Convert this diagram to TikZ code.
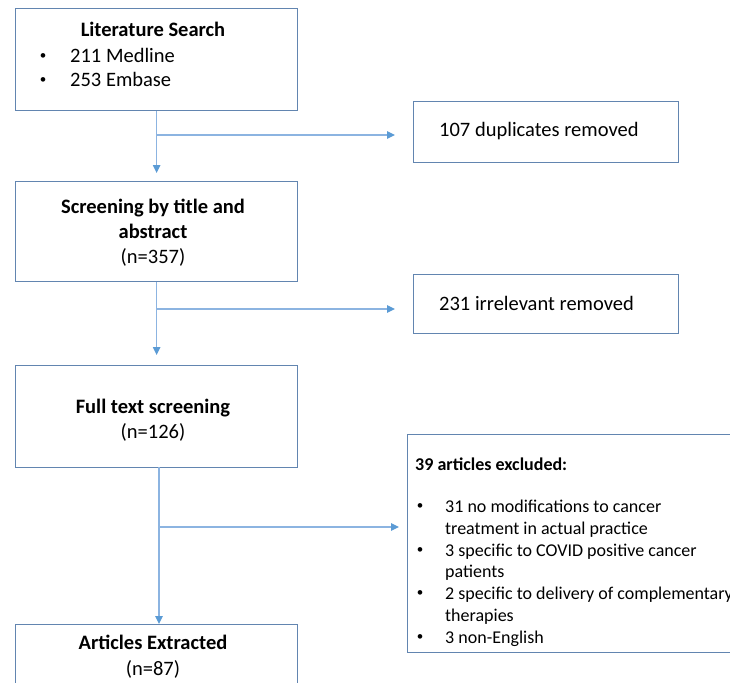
\documentclass[tikz,border=0pt]{standalone}
\usepackage{fontspec}
\setmainfont{Carlito}
\usetikzlibrary{arrows.meta}
\definecolor{boxc}{RGB}{98,133,176}
\definecolor{linec}{RGB}{140,180,225}
\definecolor{tipc}{RGB}{91,155,213}
\begin{document}
\begin{tikzpicture}[x=1pt,y=-1pt,
  box/.style={draw=boxc,line width=1.3pt,fill=white,inner sep=0pt,anchor=north west},
  big/.style={inner sep=0pt,font=\fontsize{20.5}{24}\selectfont},
  bigb/.style={inner sep=0pt,font=\fontsize{20.5}{24}\selectfont\bfseries},
  small/.style={inner sep=0pt,font=\fontsize{18}{21}\selectfont},
  smallb/.style={inner sep=0pt,font=\fontsize{18}{21}\selectfont\bfseries},
  bul/.style={inner sep=0pt,anchor=center,font=\fontsize{13}{15}\selectfont},
  ctr/.style={anchor=base},
  lft/.style={anchor=base west},
  arr/.style={draw=linec,line width=1.1pt,-{Triangle[length=8pt,width=7.5pt,fill=tipc,color=tipc]}}
]
\useasboundingbox (0,0) rectangle (730,682);
\clip (0,0) rectangle (730,682);

% boxes
\node[box,minimum width=282,minimum height=102] (lit) at (15,8) {};
\node[box,minimum width=265,minimum height=61] (dup) at (413,101) {};
\node[box,minimum width=282,minimum height=100] (scr) at (15,181) {};
\node[box,minimum width=265,minimum height=59] (irr) at (413,274) {};
\node[box,minimum width=282,minimum height=102] (full) at (15,365) {};
\node[box,minimum width=340,minimum height=218] (exc) at (407,434) {};
\node[box,minimum width=282,minimum height=80] (ext) at (15,624) {};

% texts
\node[bigb,ctr] (t1) at (153,37) {Literature Search};
\node[bul] (b1a) at (43,57) {•};
\node[big,lft] (t1a) at (70,63) {211 Medline};
\node[bul] (b1b) at (43,81) {•};
\node[big,lft] (t1b) at (70,87) {253 Embase};

\node[big,lft] (t2) at (439,136) {107 duplicates removed};

\node[bigb,ctr] (t3a) at (153,213) {Screening by title and};
\node[bigb,ctr] (t3b) at (153,238) {abstract};
\node[big,ctr] (t3c) at (153,263) {(n=357)};

\node[big,lft] (t4) at (439,310) {231 irrelevant removed};

\node[bigb,ctr] (t5a) at (153,413) {Full text screening};
\node[big,ctr] (t5b) at (153,438) {(n=126)};

\node[smallb,lft] (t6) at (415,470) {39 articles excluded:};
\node[bul] (b6a) at (420,507) {•};
\node[small,lft] (t6a) at (445,512) {31 no modifications to cancer};
\node[small,lft] (t6b) at (445,534) {treatment in actual practice};
\node[bul] (b6c) at (420,551) {•};
\node[small,lft] (t6c) at (445,556) {3 specific to COVID positive cancer};
\node[small,lft] (t6d) at (445,577) {patients};
\node[bul] (b6e) at (420,594) {•};
\node[small,lft] (t6e) at (445,599) {2 specific to delivery of complementary};
\node[small,lft] (t6f) at (445,621) {therapies};
\node[bul] (b6g) at (420,638) {•};
\node[small,lft] (t6g) at (445,643) {3 non-English};

\node[bigb,ctr] (t7a) at (153,649) {Articles Extracted};
\node[big,ctr] (t7b) at (153,675) {(n=87)};

% connectors
\coordinate (j1) at (156,135);
\coordinate (e1) at (395,135);
\coordinate (j2) at (156,309);
\coordinate (e2) at (395,309);
\coordinate (s3) at (159,467);
\coordinate (j3) at (159,527);
\coordinate (e3) at (399,527);
\coordinate (n7) at (159,624);

\draw[arr,shorten >=8pt] (lit.south) -- (scr.north);
\draw[arr] (j1) -- (e1);
\draw[arr,shorten >=10pt] (scr.south) -- (full.north);
\draw[arr] (j2) -- (e2);
\draw[arr] (s3) -- (n7);
\draw[arr] (j3) -- (e3);
\end{tikzpicture}
\end{document}
